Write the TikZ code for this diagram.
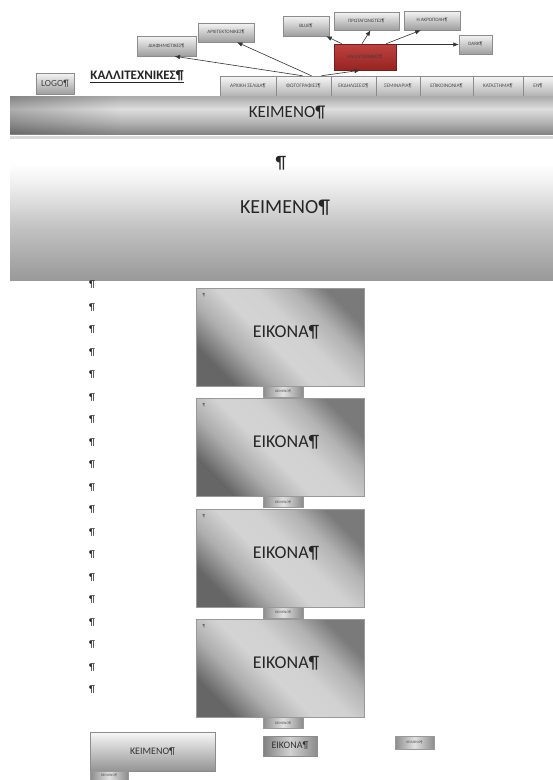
\documentclass[tikz,border=0pt]{standalone}
\usepackage{fontspec}
\setmainfont{Carlito}
\usetikzlibrary{arrows.meta,shadows,fadings}
\definecolor{redm}{RGB}{190,66,62}
\definecolor{redd}{RGB}{150,36,34}
\pgfdeclareverticalshading{bandone}{100bp}{color(0bp)=(black!48); color(25bp)=(black!48); color(40bp)=(black!30); color(58bp)=(black!13); color(72bp)=(black!30); color(75bp)=(black!33); color(100bp)=(black!33)}
\pgfdeclareverticalshading{bandtwo}{100bp}{color(0bp)=(black!40); color(25bp)=(black!40); color(45bp)=(black!24); color(62bp)=(black!6); color(70bp)=(white); color(100bp)=(white)}
\pgfdeclareverticalshading{imgshade}{100bp}{color(0bp)=(black!60); color(25bp)=(black!60); color(36bp)=(black!32); color(46bp)=(black!17); color(56bp)=(black!18); color(66bp)=(black!30); color(75bp)=(black!52); color(100bp)=(black!52)}
\tikzset{
 fs/.style={font=\fontsize{#1}{#1}\selectfont},
 sbox/.style={draw=black!45, line width=0.5pt, top color=black!4, bottom color=black!38, inner sep=0pt, text=black!75, font=\fontsize{5}{6}\selectfont, drop shadow={shadow xshift=0.8pt,shadow yshift=-0.8pt,opacity=0.35}},
 menubox/.style={draw=black!45, line width=0.5pt, top color=black!3, bottom color=black!30, inner sep=0pt, minimum height=20pt, text=black!70, font=\fontsize{5.3}{6}\selectfont},
 redbox/.style={draw=redd!80!black, line width=0.6pt, top color=redm, bottom color=redd, inner sep=0pt, text=black!75, font=\fontsize{5}{6}\selectfont, drop shadow={shadow xshift=0.8pt,shadow yshift=-0.8pt,opacity=0.35}},
 arrline/.style={-{Latex[length=5.5pt,width=4.5pt]}, line width=0.6pt, draw=black!80},
 imgbox/.style={draw=black!40, line width=0.6pt, shade, shading=imgshade, shading angle=-45, inner sep=0pt},
 capbox/.style={draw=black!40, line width=0.4pt, left color=black!45, right color=black!45, middle color=black!12, inner sep=0pt, font=\fontsize{3.5}{4}\selectfont, text=black!70},
}
\begin{document}
\begin{tikzpicture}[x=1pt,y=-1pt]
\useasboundingbox[fill=white] (0,0) rectangle (553,780);

% top boxes
\node[sbox, minimum width=59pt, minimum height=20pt] (dia) at (166.5,46) {ΔΙΑΦΗΜΙΣΤΙΚΕΣ¶};
\node[sbox, minimum width=56pt, minimum height=19pt] (arch) at (226,32.5) {ΑΡΧΙΤΕΚΤΟΝΙΚΕΣ¶};
\node[sbox, minimum width=46pt, minimum height=20pt] (blue) at (306,26) {BLUE¶};
\node[sbox, minimum width=65pt, minimum height=18pt] (prot) at (366.5,21) {ΠΡΩΤΑΓΩΝΙΣΤΕΣ¶};
\node[sbox, minimum width=56pt, minimum height=19pt] (akr) at (432,20.5) {Η ΑΚΡΟΠΟΛΗ¶};
\node[redbox, minimum width=62pt, minimum height=26pt] (red) at (365,57) {ΚΑΛΛΙΤΕΧΝΙΚΕΣ¶};
\node[sbox, minimum width=33pt, minimum height=19pt] (dark) at (475.5,44.5) {DARK¶};

% logo and title
\node[sbox, minimum width=38pt, minimum height=21pt, font=\fontsize{9.4}{10}\selectfont] (logo) at (55,83.5) {LOGO¶};
\node[font=\fontsize{13}{14}\selectfont\bfseries, text=black!85, inner sep=0pt] (title) at (137,77) {\underline{ΚΑΛΛΙΤΕΧΝΙΚΕΣ¶}};

% menu
\node[menubox, minimum width=56pt] (m1) at (248,86) {ΑΡΧΙΚΗ ΣΕΛΙΔΑ¶};
\node[menubox, minimum width=55pt] (m2) at (303.5,86) {ΦΩΤΟΓΡΑΦΙΕΣ¶};
\node[menubox, minimum width=45pt] (m3) at (353.5,86) {ΕΚΔΗΛΩΣΕΙΣ¶};
\node[menubox, minimum width=44pt] (m4) at (398,86) {ΣΕΜΙΝΑΡΙΑ¶};
\node[menubox, minimum width=53pt] (m5) at (446.5,86) {ΕΠΙΚΟΙΝΩΝΙΑ¶};
\node[menubox, minimum width=50pt] (m6) at (498,86) {ΚΑΤΑΣΤΗΜΑ¶};
\node[menubox, minimum width=30pt] (m7) at (538,86) {EN¶};

% arrows
\draw[arrline] ([xshift=-1pt]m2.north) -- ([xshift=8pt]dia.south);
\draw[arrline] ([xshift=8pt]m2.north) -- ([xshift=11pt]arch.south);
\draw[arrline] ([xshift=18pt]m2.north) -- ([xshift=-5pt]red.south);
\draw[arrline] ([xshift=8pt]red.north west) -- ([xshift=-3pt]blue.south east);
\draw[arrline] ([xshift=-3pt]red.north) -- ([xshift=4pt]prot.south);
\draw[arrline] ([xshift=-10pt]red.north east) -- ([xshift=17pt]akr.south west);
\draw[arrline] (red.east |- dark.west) -- (dark.west);

% band 1
\node[shade, shading=bandone, minimum width=543pt, minimum height=38pt, inner sep=0pt] (band1) at (281.5,115) {};
\node[fill=black, fill opacity=0.22, path fading=east, minimum width=110pt, minimum height=38pt, inner sep=0pt] (band1l) at (65,115) {};
\node[fs=17, text=black!85] (band1t) at (287,113) {ΚΕΙΜΕΝΟ¶};
\node[fill=black!15, minimum width=543pt, minimum height=2.5pt, inner sep=0pt] (rule) at (281.5,137.5) {};

% band 2
\node[shade, shading=bandtwo, minimum width=543pt, minimum height=130pt, inner sep=0pt] (band2) at (281.5,215) {};
\node[fs=18, text=black!85] (band2p) at (281,163) {¶};
\node[fs=20, text=black!85] (band2t) at (285,208) {ΚΕΙΜΕΝΟ¶};

% pilcrow column
\foreach \i in {0,...,18}
  \node[fs=10, text=black!85] (pil\i) at (92,285+22.5*\i) {¶};

% image boxes
\foreach \k in {1,...,4}{
  \pgfmathsetmacro\T{288+110.5*(\k-1)}
  \node[imgbox, minimum width=168pt, minimum height=98pt] (img\k) at (280,\T+49) {};
  \node[fs=18, text=black!85] (imgt\k) at (286,\T+44) {ΕΙΚΟΝΑ¶};
  \node[fs=4.5, text=black!70] (imgp\k) at (204,\T+7) {¶};
  \node[capbox, minimum width=40pt, minimum height=11pt] (cap\k) at (283,\T+103.5) {ΚΕΙΜΕΝΟ¶};
}

% bottom items
\node[draw=black!45, line width=0.5pt, top color=black!3, bottom color=black!42, inner sep=0pt, minimum width=125pt, minimum height=39pt, fs=10, text=black!80] (kb) at (152.5,751.5) {ΚΕΙΜΕΝΟ¶};
\node[capbox, minimum width=38pt, minimum height=9pt] (kbc) at (109,775.5) {ΚΕΙΜΕΝΟ¶};
\node[draw=black!45, line width=0.5pt, left color=black!50, right color=black!45, middle color=black!18, inner sep=0pt, minimum width=54pt, minimum height=20pt, fs=10, text=black!80, drop shadow={shadow xshift=0.8pt,shadow yshift=-0.8pt,opacity=0.35}] (eik) at (290,746) {ΕΙΚΟΝΑ¶};
\node[capbox, minimum width=39pt, minimum height=13pt, drop shadow={shadow xshift=0.8pt,shadow yshift=-0.8pt,opacity=0.35}] (kr) at (414.5,742.5) {ΚΕΙΜΕΝΟ¶};
\end{tikzpicture}
\end{document}
